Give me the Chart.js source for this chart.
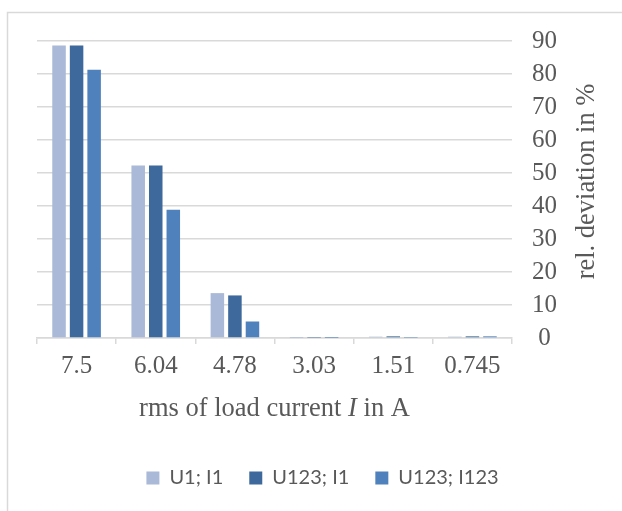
<!DOCTYPE html>
<html>
<head>
<meta charset="utf-8">
<script src="https://cdn.jsdelivr.net/npm/chart.js@4"></script>
<style>
  html, body { margin: 0; padding: 0; background: #ffffff; }
  #wrap { position: relative; width: 622px; height: 511px; }
</style>
</head>
<body>
<div id="wrap"><canvas id="c" width="622" height="511"></canvas></div>
<script>
// ---- data ----
const categories = ["7.5", "6.04", "4.78", "3.03", "1.51", "0.745"];
const seriesNames = ["U1; I1", "U123; I1", "U123; I123"];
const u1i1 = [88.6, 52.3, 13.6, 0.05, 0.4, 0.4];
const u123i1 = [88.6, 52.3, 12.9, 0.1, 0.5, 0.5];
const u123i123 = [81.3, 38.9, 5.0, 0.05, 0.1, 0.5];
const yTicks = [0, 10, 20, 30, 40, 50, 60, 70, 80, 90];
const yTitle = "rel. deviation in %";
const xTitleParts = [["rms of load current ", false], ["I", true], [" in A", false]];

// ---- style ----
const serif = "'Liberation Serif', 'Times New Roman', serif";
const sans = "Lato, 'Open Sans', sans-serif";
const textColor = "#595959";
const gridColor = "#d9d9d9";
const colors = ["#a9b9d7", "#3d699c", "#4f81bd"];
const tickSize = 25;
const titleSize = 26.5;

const decor = {
  id: "decor",
  afterLayout(chart) {
    if (chart.legend) {
      chart.legend.left += 26;
      chart.legend.right += 26;
    }
  },
  beforeDraw(chart) {
    const ctx = chart.ctx;
    ctx.save();
    ctx.strokeStyle = gridColor;
    ctx.lineWidth = 1.5;
    ctx.beginPath();
    ctx.moveTo(7.5, 511);
    ctx.lineTo(7.5, 12.5);
    ctx.lineTo(622, 12.5);
    ctx.stroke();
    ctx.restore();
  },
  afterDraw(chart) {
    const { ctx, chartArea, scales } = chart;
    const y = scales.y;
    ctx.save();
    ctx.fillStyle = textColor;
    ctx.font = titleSize + "px " + serif;
    ctx.textAlign = "center";
    ctx.textBaseline = "middle";
    ctx.translate(y.right + 31, (chartArea.top + chartArea.bottom) / 2 - 8);
    ctx.rotate(-Math.PI / 2);
    ctx.fillText(yTitle, 0, 0);
    ctx.restore();

    ctx.save();
    ctx.fillStyle = textColor;
    ctx.textBaseline = "middle";
    ctx.textAlign = "left";
    let total = 0;
    const widths = xTitleParts.map(([t, it]) => {
      ctx.font = (it ? "italic " : "") + titleSize + "px " + serif;
      const w = ctx.measureText(t).width;
      total += w;
      return w;
    });
    let xPos = (chartArea.left + chartArea.right) / 2 - total / 2;
    const yPos = chartArea.bottom + 71;
    xTitleParts.forEach(([t, it], i) => {
      ctx.font = (it ? "italic " : "") + titleSize + "px " + serif;
      ctx.fillText(t, xPos, yPos);
      xPos += widths[i];
    });
    ctx.restore();
  }
};

const dataArrays = [u1i1, u123i1, u123i123];
new Chart(document.getElementById("c"), {
  type: "bar",
  data: {
    labels: categories,
    datasets: seriesNames.map((n, i) => ({
      label: n,
      data: dataArrays[i],
      backgroundColor: colors[i],
      borderWidth: 0,
      categoryPercentage: 0.665,
      barPercentage: 0.77
    }))
  },
  options: {
    responsive: false,
    animation: false,
    devicePixelRatio: 1,
    layout: { padding: { left: 37, right: 66, top: 41, bottom: 13 } },
    plugins: {
      tooltip: { enabled: false },
      legend: {
        position: "bottom",
        labels: {
          boxWidth: 13,
          boxHeight: 13,
          padding: 26,
          color: textColor,
          font: { family: sans, size: 20 }
        }
      }
    },
    scales: {
      x: {
        grid: { drawOnChartArea: false, drawTicks: true, tickLength: 6, color: gridColor, lineWidth: 1.5, offset: true },
        border: { color: gridColor, width: 1.5 },
        ticks: { color: textColor, font: { family: serif, size: tickSize }, padding: 7, maxRotation: 0 },
        afterFit(scale) { scale.height = 104; }
      },
      y: {
        position: "right",
        min: 0,
        max: 90,
        afterBuildTicks(scale) { scale.ticks = yTicks.map(v => ({ value: v })); },
        afterFit(scale) { scale.width = 44; },
        grid: { color: gridColor, lineWidth: 1.5, drawTicks: false },
        border: { display: false },
        ticks: { color: textColor, font: { family: serif, size: tickSize }, padding: 20, crossAlign: "center" }
      }
    }
  },
  plugins: [decor]
});
</script>
</body>
</html>
